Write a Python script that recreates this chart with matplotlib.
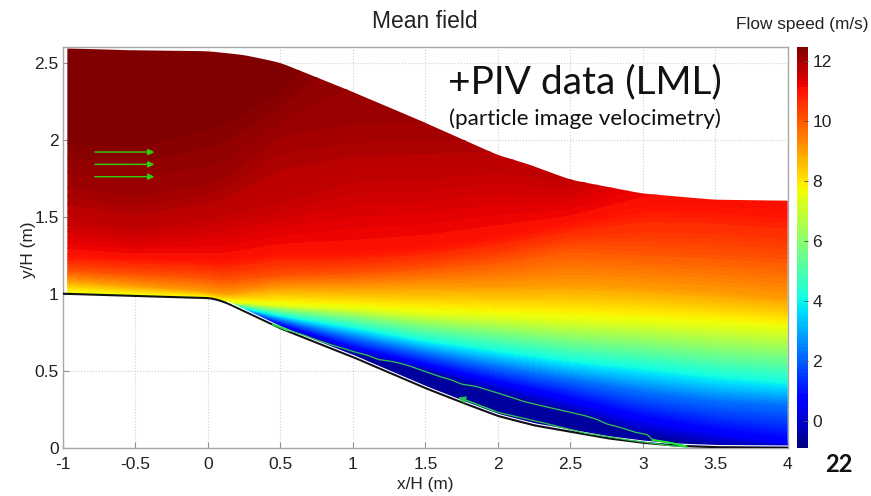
import numpy as np
import matplotlib
matplotlib.use('Agg')
import matplotlib.pyplot as plt
from matplotlib.patches import PathPatch
from matplotlib.path import Path

plt.rcParams['font.family'] = ['Liberation Sans', 'DejaVu Sans']

# walls
top_x = [-0.97, -0.5, 0, 0.25, 0.5, 0.75, 1, 1.5, 2, 2.23, 2.5, 3, 3.5, 4]
top_y = [2.593, 2.58, 2.575, 2.55, 2.5, 2.405, 2.31, 2.11, 1.90, 1.835, 1.74, 1.65, 1.61, 1.604]
bot_x = [-1, -0.5, 0, 0.05, 0.13, 0.5, 1, 1.5, 1.75, 2, 2.25, 2.5, 2.75, 3, 3.25, 3.5, 4]
bot_y = [1.0, 0.985, 0.972, 0.965, 0.94, 0.775, 0.589, 0.387, 0.295, 0.206, 0.145, 0.104, 0.062, 0.032, 0.012, 0.003, 0.0]

# height of each speed level at each station
stations = [-0.97, -0.5, 0, 0.1, 0.5, 1, 1.5, 2, 2.5, 3, 3.5, 4]
speed_levels = [-0.6, -0.5, 0.6, 2.3, 4.13, 5.8, 7.47, 9.1, 10.1, 11.0, 11.64, 12.04, 12.4, 12.48]
y_m06 = [0.80, 0.80, 0.80, 0.90, 0.74, 0.56, 0.36, 0.18, 0.08, 0.01, -0.02, -0.03]
y_m05 = [0.82, 0.82, 0.82, 0.915, 0.78, 0.625, 0.494, 0.355, 0.23, 0.082, 0.012, 0.005]
y_06 = [0.84, 0.84, 0.84, 0.925, 0.80, 0.648, 0.537, 0.42, 0.31, 0.18, 0.095, 0.03]
y_23 = [0.86, 0.86, 0.86, 0.93, 0.83, 0.72, 0.62, 0.53, 0.45, 0.37, 0.31, 0.28]
y_41 = [0.88, 0.88, 0.88, 0.938, 0.86, 0.785, 0.70, 0.635, 0.57, 0.525, 0.47, 0.43]
y_58 = [0.90, 0.90, 0.90, 0.943, 0.895, 0.85, 0.79, 0.75, 0.70, 0.67, 0.63, 0.60]
y_75 = [1.006, 0.99, 0.975, 0.948, 0.927, 0.905, 0.874, 0.855, 0.83, 0.815, 0.795, 0.77]
y_91 = [1.09, 1.055, 1.02, 1.0, 1.045, 1.045, 1.055, 1.055, 1.07, 1.05, 1.02, 0.98]
y_101 = [1.155, 1.13, 1.11, 1.09, 1.125, 1.14, 1.17, 1.22, 1.30, 1.28, 1.26, 1.23]
y_110 = [1.25, 1.23, 1.22, 1.21, 1.265, 1.265, 1.30, 1.37, 1.46, 1.56, 1.555, 1.52]
y_116 = [1.48, 1.41, 1.48, 1.50, 1.59, 1.72, 1.74, 1.78, 1.72, 1.95, 2.2, 2.2]
y_120 = [1.67, 1.61, 1.69, 1.72, 2.0, 2.05, 2.06, 2.05, 2.5, 2.5, 2.5, 2.5]
y_124 = [2.0, 1.98, 2.09, 2.12, 2.33, 2.9, 2.9, 2.9, 2.9, 2.9, 2.9, 2.9]
y_125 = [3.2, 3.2, 3.2, 3.2, 3.2, 3.2, 3.2, 3.2, 3.2, 3.2, 3.2, 3.2]
iso_heights = [y_m06, y_m05, y_06, y_23, y_41, y_58, y_75, y_91, y_101, y_110, y_116, y_120, y_124, y_125]

# green zero velocity line
green_up_x = [0.45, 0.55, 0.65, 0.75, 0.85, 0.95, 1.0, 1.1, 1.18, 1.25, 1.32, 1.4, 1.5, 1.6, 1.68, 1.75, 1.85, 1.93, 2.0, 2.1, 2.18, 2.25, 2.35, 2.5, 2.6, 2.68, 2.75, 2.85, 2.95, 3.03, 3.07, 3.2, 3.3]
green_up_y = [0.80, 0.762, 0.735, 0.70, 0.668, 0.64, 0.625, 0.60, 0.572, 0.563, 0.55, 0.528, 0.494, 0.462, 0.44, 0.413, 0.398, 0.375, 0.355, 0.325, 0.30, 0.284, 0.262, 0.23, 0.208, 0.185, 0.155, 0.13, 0.10, 0.085, 0.05, 0.03, 0.008]
green_lo_x = [1.76, 2.0, 2.32, 2.6, 2.9, 3.2, 3.3]
green_lo_y = [0.316, 0.23, 0.16, 0.095, 0.05, 0.012, 0.006]

# inflow arrows
arrow_y = [1.92, 1.84, 1.76]
arrow_start = -0.78
arrow_end = -0.37

x_ticks = [-1, -0.5, 0, 0.5, 1, 1.5, 2, 2.5, 3, 3.5, 4]
x_labels = ['-1', '-0.5', '0', '0.5', '1', '1.5', '2', '2.5', '3', '3.5', '4']
y_ticks = [0, 0.5, 1, 1.5, 2, 2.5]
y_labels = ['0', '0.5', '1', '1.5', '2', '2.5']
cbar_ticks = [0, 2, 4, 6, 8, 10, 12]

W, H = 871, 496
fig = plt.figure(figsize=(W / 100, H / 100), dpi=100)


def px_axes(left, top, right, bottom):
    return fig.add_axes([left / W, 1 - bottom / H, (right - left) / W, (bottom - top) / H])


def smooth_curve(xq, xs, ys, half_width):
    # linear reading of the stations, then a running mean along x
    dx = xq[1] - xq[0]
    n = max(int(half_width / dx), 1)
    yq = np.interp(xq, xs, ys)
    padded = np.pad(yq, n, mode='edge')
    kernel = np.hanning(2 * n + 3)[1:-1]
    return np.convolve(padded, kernel / kernel.sum(), mode='valid')


ax = px_axes(63, 46.7, 787.7, 447.7)
cax = px_axes(796.7, 46.7, 808, 447.7)

# fill the field column by column from the isolines
xg = np.linspace(-0.97, 4, 700)
yg = np.linspace(-0.02, 2.65, 620)
iso = np.array([smooth_curve(xg, stations, row, 0.14) for row in iso_heights])
Z = np.zeros((len(yg), len(xg)))
for i in range(len(xg)):
    col = np.maximum.accumulate(iso[:, i] + np.arange(iso.shape[0]) * 1e-5)
    Z[:, i] = np.interp(yg, col, speed_levels)

bands = np.linspace(-0.88, 12.48, 129)
cf = ax.contourf(xg, yg, Z, levels=bands, cmap='jet', zorder=2)

# clip to the channel
up = smooth_curve(xg, top_x, top_y, 0.1)
lo = smooth_curve(xg, bot_x, bot_y, 0.05)
verts = np.r_[np.c_[xg, lo], np.c_[xg[::-1], up[::-1]], [[xg[0], lo[0]]]]
channel = PathPatch(Path(verts), transform=ax.transData, fc='none', ec='none')
ax.add_patch(channel)
cf.set_clip_path(channel)

# walls
ax.plot(np.r_[-1, xg], np.r_[bot_y[0], lo], color='#111111', lw=1.5, zorder=4)
slope = xg > 0.13
ax.plot(xg[slope], lo[slope] + 0.011, color='white', lw=0.8, zorder=4)

# green lines
ax.plot(green_up_x, green_up_y, color='#2fc45a', lw=0.9, zorder=5)
ax.plot(green_lo_x, green_lo_y, color='#2fc45a', lw=0.9, zorder=5)
ax.plot(green_up_x[:2], green_up_y[:2], color='#22e03a', lw=1.5, zorder=5)
ax.plot(green_up_x[-3:], green_up_y[-3:], color='#22e03a', lw=1.5, zorder=5)
ax.annotate('', xy=(green_lo_x[0] - 0.05, green_lo_y[0] + 0.018), xytext=(green_lo_x[1], green_lo_y[1]),
            arrowprops=dict(arrowstyle='-|>', color='#22c84a', lw=0.8, mutation_scale=11), zorder=6)
for ay in arrow_y:
    ax.annotate('', xy=(arrow_end, ay), xytext=(arrow_start, ay),
                arrowprops=dict(arrowstyle='-|>', color='#2ad40a', lw=1.0, mutation_scale=9,
                                shrinkA=0, shrinkB=0), zorder=6)

ax.set_xlim(-1, 4)
ax.set_ylim(0, 2.604)
ax.set_xticks(x_ticks, x_labels)
ax.set_yticks(y_ticks, y_labels)
ax.grid(True, color='#d0d0d0', ls=':', lw=0.8, zorder=1)
ax.set_axisbelow(True)
ax.tick_params(direction='in', length=4, width=0.8, color='#909090', labelsize=12.5,
               labelcolor='#222222', pad=3)
ax.tick_params(axis='x', pad=7)
for s in ax.spines.values():
    s.set_color('#a8a8a8')
    s.set_linewidth(1.0)

fig.text(425 / W, 1 - 21 / H, 'Mean field', fontsize=16.5, color='#222222', ha='center', va='center')
fig.text(425 / W, 1 - 485 / H, 'x/H (m)', fontsize=12.4, color='#222222', ha='center', va='center')
fig.text(28 / W, 1 - 250 / H, 'y/H (m)', fontsize=12.4, color='#222222', ha='center', va='center', rotation=90)
fig.text(802 / W, 1 - 25 / H, 'Flow speed (m/s)', fontsize=12.4, color='#222222', ha='center', va='center')

fig.text(585 / W, 1 - 82 / H, '+PIV data (LML)', fontsize=28, family='Lato', color='#111111', ha='center', va='center')
fig.text(585 / W, 1 - 119 / H, '(particle image velocimetry)', fontsize=16.2, family='Lato', color='#111111', ha='center', va='center')
fig.text(839 / W, 1 - 465 / H, '22', fontsize=17, family='Lato', weight='bold', color='#111111', ha='center', va='center')

cb = fig.colorbar(cf, cax=cax, ticks=cbar_ticks)
cb.outline.set_visible(False)
cb.ax.tick_params(direction='in', length=3, width=0.7, color='#555555', labelsize=12.5, labelcolor='#222222', pad=3)

fig.savefig('out.png', dpi=100)
